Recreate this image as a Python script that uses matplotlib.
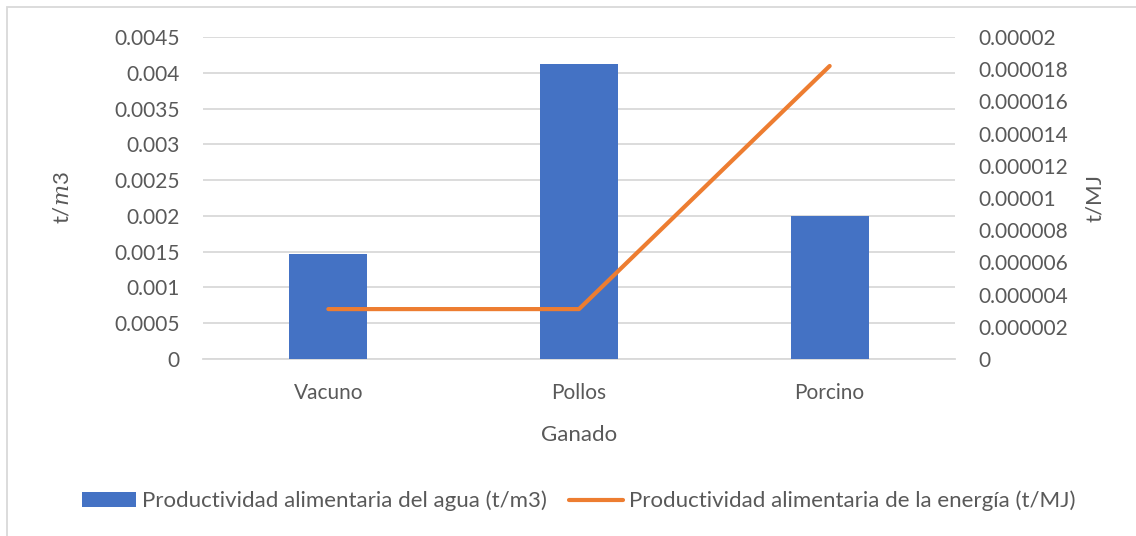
import matplotlib
matplotlib.use("Agg")
import matplotlib.pyplot as plt
from matplotlib.ticker import FuncFormatter, MultipleLocator
from matplotlib.patches import Rectangle

categories = ["Vacuno", "Pollos", "Porcino"]
agua = [0.00147, 0.00412, 0.00200]
energia = [0.0000031, 0.0000031, 0.0000182]
label_agua = "Productividad alimentaria del agua (t/m3)"
label_energia = "Productividad alimentaria de la energía (t/MJ)"

plt.rcParams['font.family'] = ['Lato', 'DejaVu Sans']
plt.rcParams['mathtext.fontset'] = 'custom'
plt.rcParams['mathtext.it'] = 'DejaVu Serif:italic'
TXT = '#595959'
GRID = '#D9D9D9'
FS = 15

fig = plt.figure(figsize=(11.36, 5.36), dpi=100)
ax = fig.add_axes([203/1136, 1-359/536, (955-203)/1136, (359-37)/536])
ax2 = ax.twinx()

x = list(range(len(categories)))
b = ax.bar(x, agua, width=0.31, color='#4472C4', label=label_agua, zorder=3)
l, = ax2.plot(x, energia, color='#ED7D31', lw=3, solid_capstyle='round', solid_joinstyle='round', label=label_energia, zorder=4)

ax.set_xlim(-0.5, 2.5)
ax.set_ylim(0, 0.0045)
ax2.set_ylim(0, 0.00002)
ax.yaxis.set_major_locator(MultipleLocator(0.0005))
ax2.yaxis.set_major_locator(MultipleLocator(0.000002))

def fmt(v, pos):
    if abs(v) < 1e-12:
        return "0"
    return f"{v:.6f}".rstrip('0').rstrip('.')

ax.yaxis.set_major_formatter(FuncFormatter(fmt))
ax2.yaxis.set_major_formatter(FuncFormatter(fmt))

ax.set_xticks(x)
ax.set_xticklabels(categories)
ax.grid(axis='y', color=GRID, lw=1.3, zorder=0)
ax.set_axisbelow(True)
for a in (ax, ax2):
    for s in a.spines.values():
        s.set_visible(False)
ax.spines['bottom'].set_visible(True)
ax.spines['bottom'].set_color(GRID)
ax.spines['bottom'].set_linewidth(1.3)

ax.tick_params(axis='y', length=0, pad=17, labelsize=FS, labelcolor=TXT)
ax.tick_params(axis='x', length=0, pad=17, labelsize=FS, labelcolor=TXT)
ax2.tick_params(axis='y', length=0, pad=17, labelsize=FS, labelcolor=TXT)

ax.set_xlabel("Ganado", fontsize=16, color=TXT, labelpad=16)
ax.set_ylabel("t/$m$3", fontsize=16, color=TXT, labelpad=30)
ax2.set_ylabel("t/MJ", fontsize=16, color=TXT, labelpad=12)

fig.legend(handles=[b, l], labels=[label_agua, label_energia], loc='center',
           bbox_to_anchor=(579/1136, 1-501/536), ncol=2, frameon=False,
           fontsize=16, labelcolor=TXT, handlelength=2.4, handleheight=0.65,
           handletextpad=0.3, columnspacing=1.0)

fig.patches.append(Rectangle((7/1136, -0.05), 1.1, 1.05-7/536,
                             transform=fig.transFigure, fill=False,
                             edgecolor='#D9D9D9', lw=1.3))

fig.savefig("out.png", dpi=100, facecolor='white')
